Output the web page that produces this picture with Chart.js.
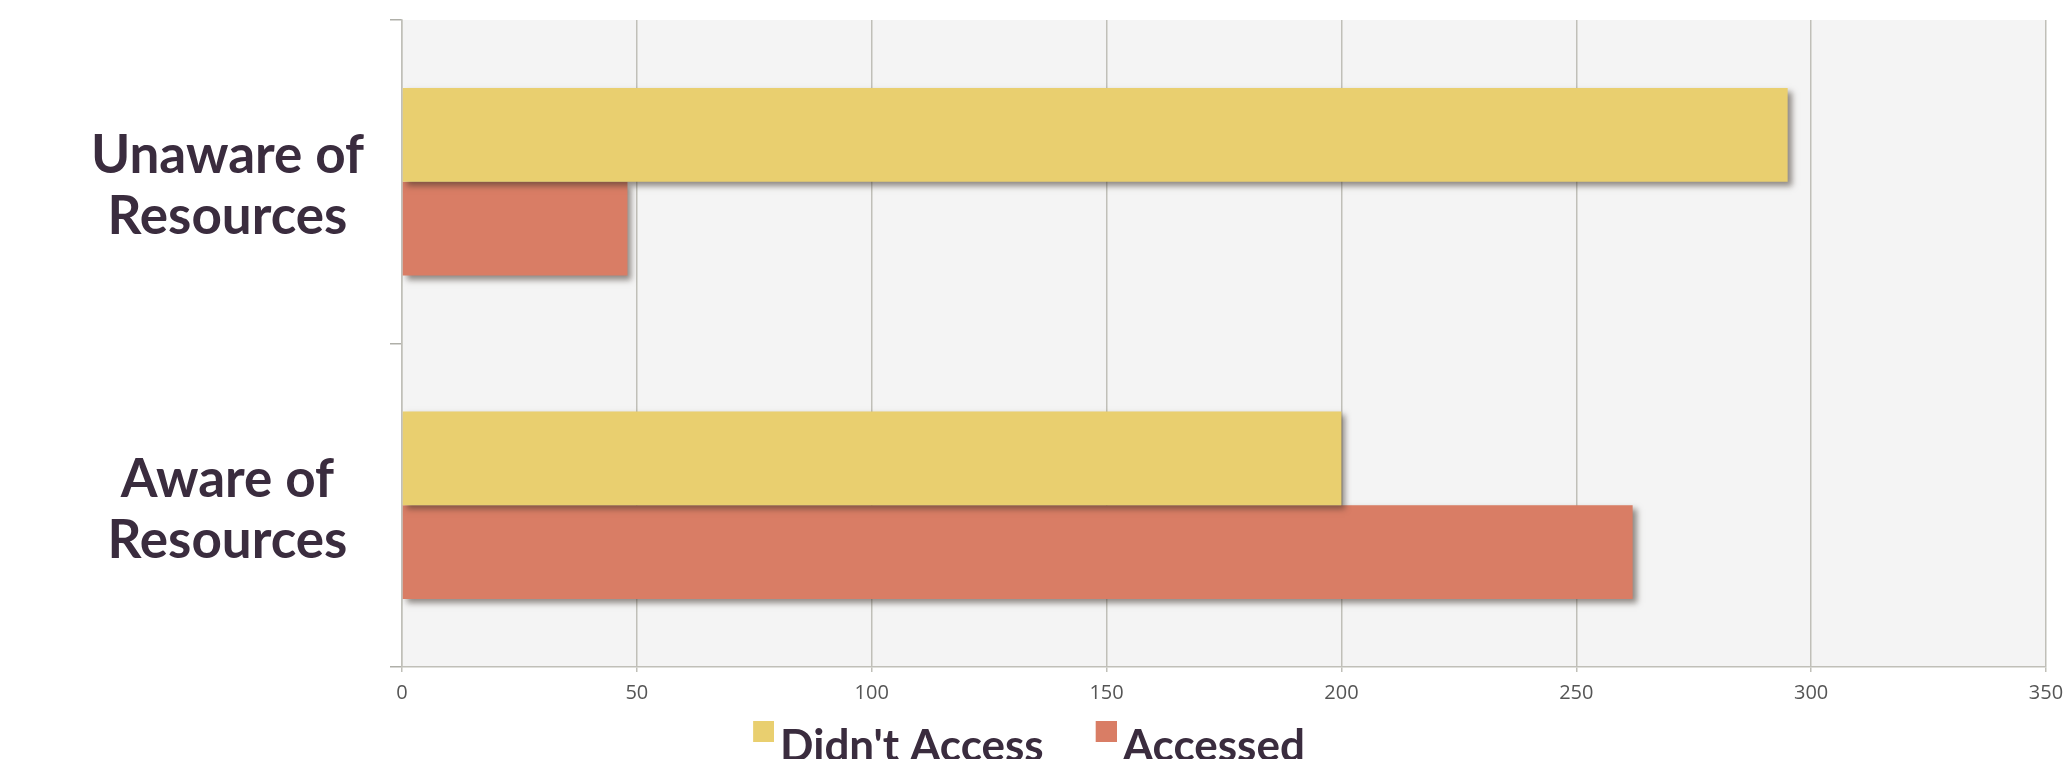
<!DOCTYPE html>
<html>
<head>
<meta charset="utf-8">
<script src="https://cdn.jsdelivr.net/npm/chart.js@4/dist/chart.umd.min.js"></script>
<style>
  html, body { margin: 0; padding: 0; background: #fff; overflow: hidden; }
</style>
</head>
<body>
<canvas id="chart" width="2066" height="797"></canvas>
<script>
var categories = [['Unaware of', 'Resources'], ['Aware of', 'Resources']];
var didntAccess = [295, 200];
var accessed = [48, 262];
var xTicks = [0, 50, 100, 150, 200, 250, 300, 350];

var yellow = '#E9CF6F';
var red = '#D97D65';
var gridGray = '#C0BFB8';
var labelDark = '#3A2C3E';

var legendFont = 44;
var legendPad = 36;

// legend swatch: square sits up and to the right of where chart.js centres it
function legendSwatch(color) {
    var c = document.createElement('canvas');
    c.width = 53;
    c.height = 52;
    var g = c.getContext('2d');
    g.fillStyle = color;
    g.fillRect(32, 0, 21, 21);
    return c;
}
var swatches = [legendSwatch(yellow), legendSwatch(red)];

// grey plot background
var plotBg = {
    id: 'plotBg',
    beforeDraw: function (chart) {
        var a = chart.chartArea;
        var ctx = chart.ctx;
        ctx.save();
        ctx.fillStyle = '#F4F4F4';
        ctx.fillRect(a.left, a.top, a.right - a.left, a.bottom - a.top);
        ctx.restore();
    }
};

// soft drop shadow under the bars
var barShadow = {
    id: 'barShadow',
    beforeDatasetsDraw: function (chart) {
        var ctx = chart.ctx;
        ctx.save();
        ctx.shadowColor = 'rgba(60, 50, 40, 0.55)';
        ctx.shadowBlur = 6;
        ctx.shadowOffsetX = 4;
        ctx.shadowOffsetY = 4;
    },
    afterDatasetsDraw: function (chart) {
        chart.ctx.restore();
    }
};

// pull the legend up close under the axis labels
var legendUp = {
    id: 'legendUp',
    afterLayout: function (chart) {
        var lg = chart.legend;
        var h = lg.bottom - lg.top;
        lg.top = chart.chartArea.bottom + 80 - legendPad - legendFont / 2;
        lg.bottom = lg.top + h;
        lg.left -= 2;
        lg.right -= 2;
    }
};

var ctx = document.getElementById('chart').getContext('2d');
new Chart(ctx, {
    type: 'bar',
    data: {
        labels: categories,
        datasets: [{
            label: "Didn't Access",
            data: didntAccess,
            backgroundColor: yellow,
            borderWidth: 0,
            categoryPercentage: 0.58,
            barPercentage: 1.0
        }, {
            label: 'Accessed',
            data: accessed,
            backgroundColor: red,
            borderWidth: 0,
            categoryPercentage: 0.58,
            barPercentage: 1.0
        }]
    },
    options: {
        indexAxis: 'y',
        responsive: false,
        animation: false,
        devicePixelRatio: 1,
        layout: { padding: { top: 20, right: 20, left: 0, bottom: 0 } },
        scales: {
            x: {
                min: xTicks[0],
                max: xTicks[xTicks.length - 1],
                afterFit: function (scale) {
                    scale.height = 40;
                    scale.paddingLeft = 0;
                    scale.paddingRight = 0;
                },
                grid: { color: gridGray, lineWidth: 1.5, tickLength: 5 },
                border: { color: gridGray, width: 1.5 },
                ticks: {
                    stepSize: xTicks[1] - xTicks[0],
                    callback: function (v, i) { return xTicks[i]; },
                    color: '#555555',
                    padding: 9,
                    font: { family: '"Open Sans", sans-serif', size: 20 }
                }
            },
            y: {
                afterFit: function (scale) {
                    scale.width = 402;
                    scale.paddingTop = 0;
                    scale.paddingBottom = 0;
                },
                grid: { drawOnChartArea: false, offset: true, color: '#AFAFA8', lineWidth: 1.5, tickLength: 12 },
                border: { color: gridGray, width: 1.5 },
                ticks: {
                    color: labelDark,
                    crossAlign: 'center',
                    padding: 26,
                    labelOffset: 5,
                    font: { family: 'Lato, sans-serif', size: 53, weight: 'bold', lineHeight: 1.15 }
                }
            }
        },
        plugins: {
            legend: {
                position: 'bottom',
                labels: {
                    usePointStyle: true,
                    boxWidth: 21,
                    boxHeight: 21,
                    padding: legendPad,
                    color: labelDark,
                    font: { family: 'Lato, sans-serif', size: legendFont, weight: 'bold' },
                    generateLabels: function (chart) {
                        var items = Chart.defaults.plugins.legend.labels.generateLabels(chart);
                        items.forEach(function (it, i) { it.pointStyle = swatches[i]; });
                        return items;
                    }
                }
            },
            tooltip: { enabled: false }
        }
    },
    plugins: [plotBg, barShadow, legendUp]
});
</script>
</body>
</html>
